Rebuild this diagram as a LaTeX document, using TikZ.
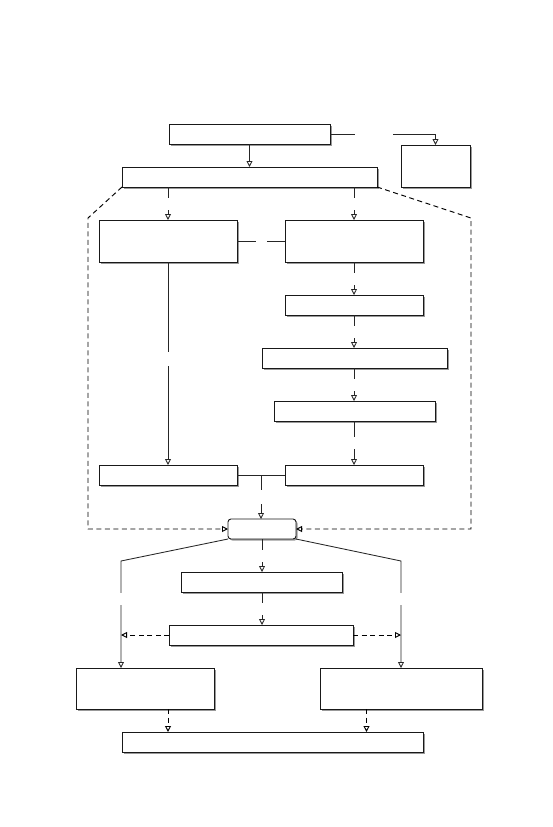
\documentclass[tikz,border=0pt]{standalone}
\usetikzlibrary{arrows.meta,shadows,calc}
\begin{document}
\begin{tikzpicture}[x=1pt,y=-1pt,
  box/.style={draw=black!90, line width=0.9pt, fill=white, inner sep=0pt, outer sep=0pt,
    drop shadow={shadow xshift=1.6pt, shadow yshift=-1.6pt, fill=black!40, opacity=1}},
  rbox/.style={box, rounded corners=3pt},
  conn/.style={draw=black!85, line width=0.85pt, -{Triangle[open,length=6pt,width=6pt,fill=white]}},
  plain/.style={draw=black!85, line width=0.85pt},
  dconn/.style={conn, draw=black, line width=0.95pt, dash pattern=on 5pt off 3.5pt},
  grp/.style={dconn},
  gap/.style={fill=white, inner sep=0pt, outer sep=0pt, minimum width=7pt, minimum height=12pt},
  hgap/.style={fill=white, inner sep=0pt, outer sep=0pt, minimum width=#1, minimum height=6pt},
]
\useasboundingbox (0,0) rectangle (552,827);

% boxes
\node[box, minimum width=161pt, minimum height=20pt] (A) at (249.5,134) {};
\node[box, minimum width=69pt, minimum height=42pt] (R) at (435.5,166) {};
\node[box, minimum width=255pt, minimum height=20pt] (B) at (249.5,177) {};
\node[box, minimum width=138pt, minimum height=42pt] (C1) at (168,241) {};
\node[box, minimum width=138pt, minimum height=42pt] (C2) at (354,241) {};
\node[box, minimum width=138pt, minimum height=20pt] (D1) at (354,305) {};
\node[box, minimum width=185pt, minimum height=20pt] (D2) at (354.5,358) {};
\node[box, minimum width=161pt, minimum height=20pt] (D3) at (354.5,411) {};
\node[box, minimum width=138pt, minimum height=20pt] (E1) at (168,475) {};
\node[box, minimum width=138pt, minimum height=20pt] (E2) at (354,475) {};
\node[rbox, minimum width=68pt, minimum height=20pt] (F) at (262,529) {};
\node[box, minimum width=161pt, minimum height=20pt] (G1) at (261.5,582) {};
\node[box, minimum width=184pt, minimum height=20pt] (G2) at (261,635) {};
\node[box, minimum width=138pt, minimum height=41pt] (H1) at (145,688.5) {};
\node[box, minimum width=162pt, minimum height=41pt] (H2) at (401,688.5) {};
\node[box, minimum width=301pt, minimum height=20pt] (I) at (272.5,742) {};

% helper coordinates
\coordinate (hl) at (121,561);
\coordinate (hr) at (401,561);
\coordinate (gl) at (88,218);
\coordinate (gr) at (471,218);
\coordinate (xr) at (366.5,0);
\coordinate (mE) at ($(E1.east)!0.5!(E2.west)$);

% connectors
\draw[conn] (A.south) -- (B.north);
\draw[conn] (A.east) -- node[pos=0.42, hgap=38pt] {} (A.east -| R.north) -- (R.north);
\draw[conn] (C1.north |- B.south) -- node[gap] {} (C1.north);
\draw[conn] (C2.north |- B.south) -- node[gap] {} (C2.north);
\draw[plain] (C1.east) -- node[hgap=11pt] {} (C2.west);
\draw[conn] (C1.south) -- node[pos=0.48, gap, minimum height=14pt] {} (E1.north);
\draw[conn] (C2.south) -- node[gap] {} (D1.north);
\draw[conn] (D1.south) -- node[gap] {} (D1.south |- D2.north);
\draw[conn] (D2.south -| D1.south) -- node[gap] {} (D1.south |- D3.north);
\draw[conn] (D3.south -| D1.south) -- node[gap] {} (D1.south |- E2.north);
\draw[plain] (E1.east) -- (E2.west);
\draw[conn] (mE) -- node[gap, minimum height=14pt] {} (mE |- F.north);
\draw[conn] (F.south) -- node[gap] {} (F.south |- G1.north);
\draw[conn] (F.south |- G1.south) -- node[gap] {} (F.south |- G2.north);
\draw[conn] (F.south west) -- (hl) -- node[pos=0.355, gap] {} (hl |- H1.north);
\draw[conn] (F.south east) -- (hr) -- node[pos=0.355, gap] {} (H2.north);
\draw[dconn] (G2.west) -- (hl |- G2.west);
\draw[dconn] (G2.east) -- (hr |- G2.east);
\draw[dconn] (H1.south -| C1.south) -- (I.north -| C1.south);
\draw[dconn] (H2.south -| xr) -- (I.north -| xr);

% group outline
\draw[grp] (B.south west) -- (gl) -- (gl |- F.west) -- (F.west);
\draw[grp] (B.south east) -- (gr) -- (gr |- F.east) -- (F.east);
\end{tikzpicture}
\end{document}
